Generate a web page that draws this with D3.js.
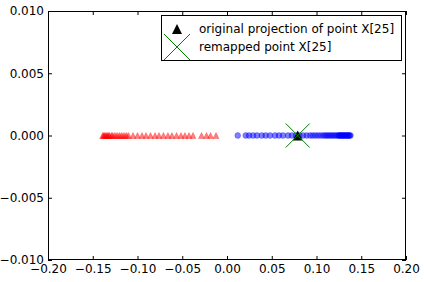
<!DOCTYPE html>
<html>
<head>
<meta charset="utf-8">
<script src="https://cdn.jsdelivr.net/npm/d3@7"></script>
<style>
  body { margin: 0; background: #fff; }
  svg { display: block; font-family: "DejaVu Sans", sans-serif; }
</style>
</head>
<body>
<div class="canvas"></div>
<script>
// projected values of the two classes (all lie on y = 0)
const redX = [-0.139, -0.138, -0.137, -0.136, -0.135, -0.134, -0.133, -0.132, -0.131, -0.129,
  -0.128, -0.126, -0.124, -0.122, -0.120, -0.118, -0.116, -0.114, -0.112, -0.110,
  -0.105, -0.100, -0.095, -0.0905, -0.0855, -0.0804, -0.076, -0.071, -0.066, -0.0615,
  -0.0564, -0.0514, -0.047, -0.0425, -0.038, -0.0285, -0.0229, -0.0184, -0.0123];
const blueX = [0.012, 0.0209, 0.0246, 0.0291, 0.0335, 0.0388, 0.0432, 0.048, 0.0536, 0.0581,
  0.0626, 0.0682, 0.0726, 0.077, 0.081, 0.085, 0.089, 0.093, 0.096, 0.099,
  0.102, 0.105, 0.108, 0.110, 0.112, 0.114, 0.116, 0.118, 0.120, 0.122,
  0.124, 0.125, 0.126, 0.127, 0.128, 0.129, 0.130, 0.131, 0.132, 0.133,
  0.134, 0.135, 0.136, 0.137, 0.138];
const pointX = [0.079];
const pointY = [0];
const xTicks = [-0.20, -0.15, -0.10, -0.05, 0.00, 0.05, 0.10, 0.15, 0.20];
const yTicks = [-0.010, -0.005, 0.000, 0.005, 0.010];
const legendLabels = ["original projection of point X[25]", "remapped point X[25]"];

const width = 424;
const height = 282;
const margin = {top: 11, right: 18, bottom: 22, left: 48};

const svg = d3.select('.canvas')
  .append('svg')
  .attr('width', width)
  .attr('height', height);

const x = d3.scaleLinear()
  .domain([-0.2, 0.2])
  .range([margin.left, width - margin.right]);

const y = d3.scaleLinear()
  .domain([-0.01, 0.01])
  .range([height - margin.bottom, margin.top]);

const tri = r => `M0,${-r}L${-r},${r}L${r},${r}Z`;
const cross = r => `M${-r},${-r}L${r},${r}M${-r},${r}L${r},${-r}`;

// data
svg.append('g').selectAll('path')
  .data(redX)
  .enter().append('path')
  .attr('d', tri(3))
  .attr('transform', d => `translate(${x(d)},${y(0)})`)
  .attr('fill', 'red')
  .attr('fill-opacity', 0.5)
  .attr('stroke', 'red')
  .attr('stroke-opacity', 0.5)
  .attr('stroke-width', 0.5);

svg.append('g').selectAll('circle')
  .data(blueX)
  .enter().append('circle')
  .attr('cx', d => x(d))
  .attr('cy', y(0))
  .attr('r', 2.9)
  .attr('fill', 'blue')
  .attr('fill-opacity', 0.5)
  .attr('stroke', 'blue')
  .attr('stroke-opacity', 0.5)
  .attr('stroke-width', 0.5);

svg.append('path')
  .attr('d', tri(5))
  .attr('transform', `translate(${x(pointX[0])},${y(pointY[0])})`)
  .attr('fill', 'black');

svg.append('path')
  .attr('d', cross(12))
  .attr('transform', `translate(${x(pointX[0])},${y(pointY[0])})`)
  .attr('fill', 'none')
  .attr('stroke', 'green')
  .attr('stroke-width', 1);

// axes, ticks inward on all four sides
const x0 = margin.left, x1 = width - margin.right;
const y0 = height - margin.bottom, y1 = margin.top;

const gX = svg.append('g').attr('transform', `translate(0,${y0})`)
  .call(d3.axisBottom(x).tickValues(xTicks).tickSize(-4).tickPadding(4).tickFormat(d3.format('.2f')));
const gXt = svg.append('g').attr('transform', `translate(0,${y1})`)
  .call(d3.axisTop(x).tickValues(xTicks).tickSize(-4).tickFormat(''));
const gY = svg.append('g').attr('transform', `translate(${x0},0)`)
  .call(d3.axisLeft(y).tickValues(yTicks).tickSize(-4).tickPadding(4).tickFormat(d3.format('.3f')));
const gYr = svg.append('g').attr('transform', `translate(${x1},0)`)
  .call(d3.axisRight(y).tickValues(yTicks).tickSize(-4).tickFormat(''));

[gX, gXt, gY, gYr].forEach(g => {
  g.select('.domain').remove();
  g.selectAll('line').attr('stroke', 'black');
  g.selectAll('text').attr('fill', 'black').style('font-size', '12px')
    .style('font-family', '"DejaVu Sans", sans-serif');
});

svg.append('rect')
  .attr('x', x0 + 0.5)
  .attr('y', y1 + 0.5)
  .attr('width', x1 - x0 - 1)
  .attr('height', y0 - y1 - 1)
  .attr('fill', 'none')
  .attr('stroke', 'black');

// legend
const leg = svg.append('g').attr('transform', 'translate(161.5,15.5)');
leg.append('rect')
  .attr('width', 240)
  .attr('height', 45)
  .attr('fill', 'white')
  .attr('stroke', 'black');
leg.append('path')
  .attr('d', tri(5))
  .attr('transform', 'translate(15.5,13.5)')
  .attr('fill', 'black');
leg.append('path')
  .attr('d', cross(13))
  .attr('transform', 'translate(15.5,31.5)')
  .attr('fill', 'none')
  .attr('stroke', 'green')
  .attr('stroke-width', 1);
leg.selectAll('text')
  .data(legendLabels)
  .enter().append('text')
  .attr('x', 37.5)
  .attr('y', (d, i) => 17.5 + i * 18)
  .style('font-size', '12px')
  .text(d => d);
</script>
</body>
</html>
